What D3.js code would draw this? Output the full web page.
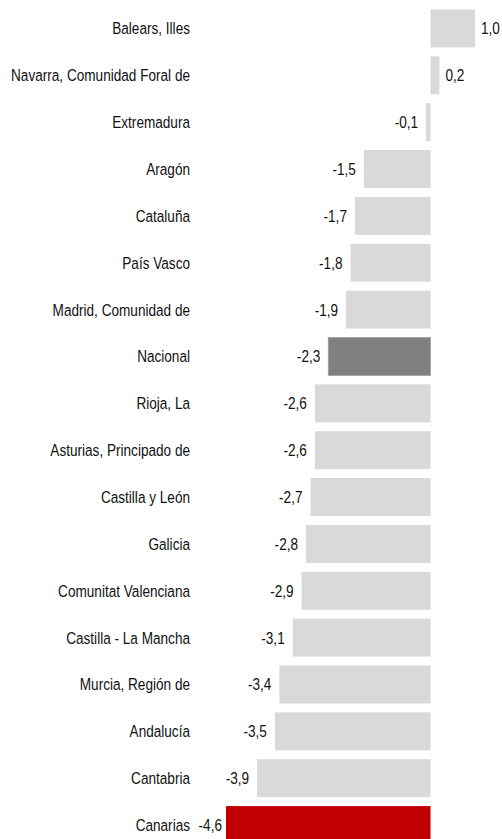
<!DOCTYPE html>
<html>
<head>
<meta charset="utf-8">
<script src="https://cdn.jsdelivr.net/npm/d3@7"></script>
<style>
  body { margin: 0; background: #fff; }
  text { font-family: "Liberation Sans", Arial, sans-serif; font-size: 17px; fill: #111; }
</style>
</head>
<body>
<div id="chart"></div>
<script>
(function() {
    // regions in display order, values in %
    var regions = ["Balears, Illes", "Navarra, Comunidad Foral de", "Extremadura", "Aragón", "Cataluña",
        "País Vasco", "Madrid, Comunidad de", "Nacional", "Rioja, La", "Asturias, Principado de",
        "Castilla y León", "Galicia", "Comunitat Valenciana", "Castilla - La Mancha", "Murcia, Región de",
        "Andalucía", "Cantabria", "Canarias"];
    var values = [1.0, 0.2, -0.1, -1.5, -1.7, -1.8, -1.9, -2.3, -2.6, -2.6, -2.7, -2.8, -2.9, -3.1, -3.4, -3.5, -3.9, -4.6];

    var width = 502, height = 839;
    var squeeze = 0.8; // narrow look of the original font

    var data = regions.map(function(d, i) { return {name: d, value: values[i]}; });

    var svg = d3.select("#chart")
        .append("svg")
        .attr("width", width)
        .attr("height", height);

    var x = d3.scaleLinear()
        .domain([-4.6, 1.0])
        .range([226, 475]);

    var y = d3.scaleBand()
        .domain(regions)
        .range([5, 848.5])
        .paddingInner(0.19)
        .paddingOuter(0.095);

    function barColor(d) {
        if (d.name === "Nacional") return "#808080";
        if (d.name === "Canarias") return "#c00000";
        return "#d9d9d9";
    }

    // bars
    svg.append("g")
        .selectAll("rect")
        .data(data)
        .enter()
        .append("rect")
        .attr("x", function(d) { return x(Math.min(0, d.value)); })
        .attr("y", function(d) { return y(d.name); })
        .attr("width", function(d) { return Math.abs(x(d.value) - x(0)); })
        .attr("height", y.bandwidth())
        .attr("fill", barColor)
        .attr("stroke", function(d) { return d.name === "Nacional" ? "#a0a0a0" : "none"; })
        .attr("stroke-width", 0.8);

    // category labels
    svg.append("g")
        .selectAll("text")
        .data(data)
        .enter()
        .append("text")
        .attr("transform", function(d) {
            return "translate(190," + (y(d.name) + y.bandwidth() / 2) + ") scale(" + squeeze + ",1)";
        })
        .attr("dy", "0.35em")
        .attr("text-anchor", "end")
        .text(function(d) { return d.name; });

    // value labels (the last one sits tighter against its bar)
    var fmt = function(v) { return d3.format(".1f")(v).replace(".", ",").replace("−", "-"); };
    svg.append("g")
        .selectAll("text")
        .data(data)
        .enter()
        .append("text")
        .attr("transform", function(d) {
            var gap = d.name === "Canarias" ? 4 : 8;
            var tx = d.value >= 0 ? x(d.value) + 6 : x(d.value) - gap;
            return "translate(" + tx + "," + (y(d.name) + y.bandwidth() / 2) + ") scale(" + squeeze + ",1)";
        })
        .attr("dy", "0.35em")
        .attr("text-anchor", function(d) { return d.value >= 0 ? "start" : "end"; })
        .text(function(d) { return fmt(d.value); });
})();
</script>
</body>
</html>
